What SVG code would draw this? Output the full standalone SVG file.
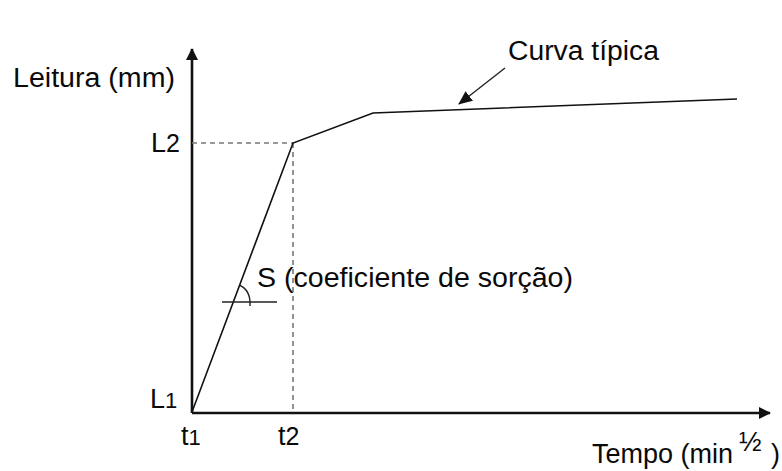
<svg xmlns="http://www.w3.org/2000/svg" width="782" height="471" viewBox="0 0 782 471">
<style>
text{font-family:"Liberation Sans",Arial,sans-serif;font-size:27px;fill:#0a0a0a}
.axis{stroke:#111;stroke-width:2.6;fill:none}
.curve{stroke:#111;stroke-width:1.6;fill:none}
.dash{stroke:#777;stroke-width:1.6;stroke-dasharray:5,4;fill:none}
.thin{stroke:#222;stroke-width:1.4;fill:none}
</style>
<defs>
<marker id="ah" viewBox="0 0 12 12" refX="11" refY="6" markerWidth="12" markerHeight="12" markerUnits="userSpaceOnUse" orient="auto">
<path d="M0,0 L12,6 L0,12 Z" fill="#111"/>
</marker>
<marker id="ah2" viewBox="0 0 14 12" refX="13" refY="6" markerWidth="14" markerHeight="12" markerUnits="userSpaceOnUse" orient="auto">
<path d="M0,0 L14,6 L0,12 Z" fill="#111"/>
</marker>
</defs>
<rect width="782" height="471" fill="#ffffff"/>
<g id="connectors">
<line class="axis" x1="192" y1="413" x2="192" y2="49" marker-end="url(#ah)"/>
<line class="axis" x1="192" y1="413" x2="770" y2="413" marker-end="url(#ah)"/>
<line class="dash" x1="192" y1="143" x2="293" y2="143"/>
<line class="dash" x1="293" y1="143" x2="293" y2="412"/>
<polyline class="curve" points="192,412 293,143 373,113 737,99"/>
<line class="thin" x1="505" y1="68" x2="459" y2="104" marker-end="url(#ah2)"/>
<line class="thin" x1="222" y1="302" x2="277" y2="302"/>
<path class="thin" d="M239,285 Q251,290 250,306"/>
</g>
<g id="ylabel"><text x="13" y="87" textLength="162" lengthAdjust="spacingAndGlyphs">Leitura (mm)</text></g>
<g id="curvelabel"><text x="508" y="60" textLength="151" lengthAdjust="spacingAndGlyphs">Curva típica</text></g>
<g id="L2"><text x="151" y="152">L<tspan font-size="25">2</tspan></text></g>
<g id="L1"><text x="150" y="408">L<tspan font-size="22">1</tspan></text></g>
<g id="t1"><text x="181" y="445">t<tspan font-size="22">1</tspan></text></g>
<g id="t2"><text x="278" y="445">t<tspan font-size="25">2</tspan></text></g>
<g id="S"><text x="257" y="287" textLength="316" lengthAdjust="spacingAndGlyphs">S (coeficiente de sorção)</text></g>
<g id="xlabel"><text x="592" y="463">Tempo (min<tspan x="739" font-size="27" dy="-12">½</tspan><tspan dy="12" x="771">)</tspan></text></g>
</svg>
